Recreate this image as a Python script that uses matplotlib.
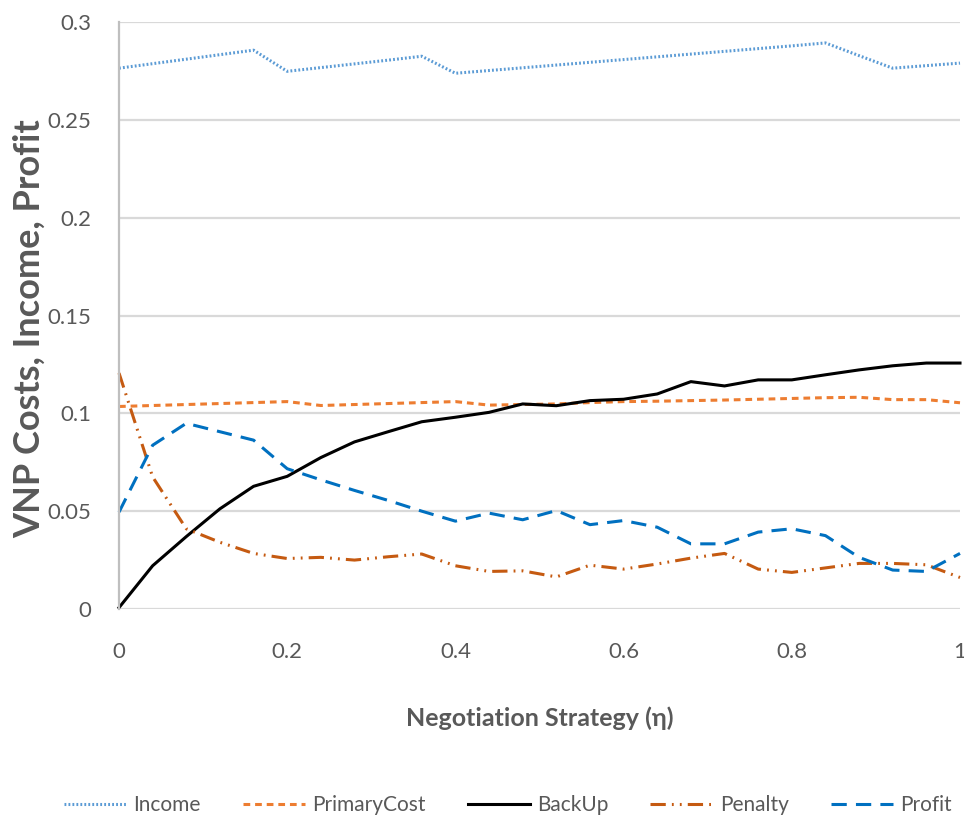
import matplotlib as mpl
import matplotlib.pyplot as plt
import numpy as np

# x: negotiation strategy eta, 0 .. 1 step 0.04
eta = [0.00, 0.04, 0.08, 0.12, 0.16, 0.20, 0.24, 0.28, 0.32, 0.36, 0.40, 0.44, 0.48,
       0.52, 0.56, 0.60, 0.64, 0.68, 0.72, 0.76, 0.80, 0.84, 0.88, 0.92, 0.96, 1.00]

income = [0.2764, 0.2787, 0.2810, 0.2833, 0.2856, 0.2748, 0.2767, 0.2786, 0.2805, 0.2825,
          0.2738, 0.2752, 0.2766, 0.2780, 0.2794, 0.2808, 0.2822, 0.2836, 0.2850, 0.2864,
          0.2878, 0.2893, 0.2828, 0.2764, 0.2777, 0.2790]
primary_cost = [0.1035, 0.1040, 0.1045, 0.1050, 0.1055, 0.1060, 0.1040, 0.1045, 0.1050, 0.1055,
                0.1060, 0.1042, 0.1045, 0.1048, 0.1055, 0.1060, 0.1062, 0.1065, 0.1068, 0.1072,
                0.1076, 0.1080, 0.1082, 0.1070, 0.1070, 0.1054]
backup = [0.0007, 0.0221, 0.0370, 0.0512, 0.0627, 0.0678, 0.0774, 0.0854, 0.0906, 0.0957,
          0.0980, 0.1005, 0.1048, 0.1039, 0.1065, 0.1072, 0.1099, 0.1162, 0.1140, 0.1171,
          0.1171, 0.1197, 0.1222, 0.1243, 0.1257, 0.1257]
penalty = [0.1206, 0.0675, 0.0410, 0.0341, 0.0284, 0.0258, 0.0264, 0.0250, 0.0267, 0.0281,
           0.0221, 0.0192, 0.0195, 0.0164, 0.0224, 0.0204, 0.0230, 0.0260, 0.0284, 0.0204,
           0.0187, 0.0210, 0.0233, 0.0233, 0.0226, 0.0161]
profit = [0.0495, 0.0837, 0.0949, 0.0906, 0.0863, 0.0717, 0.0660, 0.0606, 0.0555, 0.0500,
          0.0449, 0.0490, 0.0456, 0.0503, 0.0431, 0.0452, 0.0418, 0.0333, 0.0333, 0.0393,
          0.0410, 0.0375, 0.0264, 0.0199, 0.0192, 0.0284]

xticks = [0, 0.2, 0.4, 0.6, 0.8, 1.0]
xtick_labels = ["0", "0.2", "0.4", "0.6", "0.8", "1"]
yticks = [0, 0.05, 0.1, 0.15, 0.2, 0.25, 0.3]
ytick_labels = ["0", "0.05", "0.1", "0.15", "0.2", "0.25", "0.3"]

plt.rcParams['font.family'] = ['Lato', 'DejaVu Sans']
grey = "#595959"

W, H = 964, 824
fig = plt.figure(figsize=(W/100, H/100), dpi=100)
ax = fig.add_axes([119/W, 1-609/H, (960-119)/W, (609-22)/H])

ax.plot(eta, income, color="#5B9BD5", lw=2.2, linestyle=(0, (0.6, 0.7)),
        dash_capstyle="butt", label="Income", clip_on=False)
ax.plot(eta, primary_cost, color="#ED7D31", lw=2.2, linestyle=(0, (2.2, 1.6)),
        label="PrimaryCost", clip_on=False)
ax.plot(eta, backup, color="black", lw=2.2, label="BackUp", clip_on=False)
ax.plot(eta, penalty, color="#C55A11", lw=2.2,
        linestyle=(0, (5, 2, 0.6, 2, 0.6, 2)), label="Penalty", clip_on=False)
ax.plot(eta, profit, color="#0070C0", lw=2.2, linestyle=(0, (5, 3)),
        label="Profit", clip_on=False)

ax.set_xlim(0, 1)
ax.set_ylim(0, 0.3)
ax.set_xticks(xticks)
ax.set_xticklabels(xtick_labels)
ax.set_yticks(yticks)
ax.set_yticklabels(ytick_labels)
ax.tick_params(length=0, labelsize=16, colors=grey)
ax.tick_params(axis="x", pad=24)
ax.tick_params(axis="y", pad=20)
ax.grid(axis="y", color="#d9d9d9", lw=1.6)
ax.set_axisbelow(True)
for s in ["top", "right", "bottom"]:
    ax.spines[s].set_visible(False)
ax.spines["left"].set_color("#bfbfbf")
ax.spines["left"].set_linewidth(1.6)

ax.set_xlabel("Negotiation Strategy (η)", fontsize=18, fontweight="bold", color=grey)
ax.xaxis.set_label_coords(0.5, -(718-609)/(609-22), transform=ax.transAxes)
ax.xaxis.label.set_va("center")
ax.set_ylabel("VNP Costs, Income, Profit", fontsize=26, fontweight="bold", color=grey)
ax.yaxis.set_label_coords(-(119-29)/(960-119), (609-329)/(609-22))
ax.yaxis.label.set_va("center")

leg = fig.legend(loc="center", bbox_to_anchor=(508/W, 1-805/H), ncol=5, frameon=False,
                 fontsize=15, handlelength=3.0, columnspacing=2.0, handletextpad=0.35)
for t in leg.get_texts():
    t.set_color(grey)

fig.savefig("out.png", dpi=100)
